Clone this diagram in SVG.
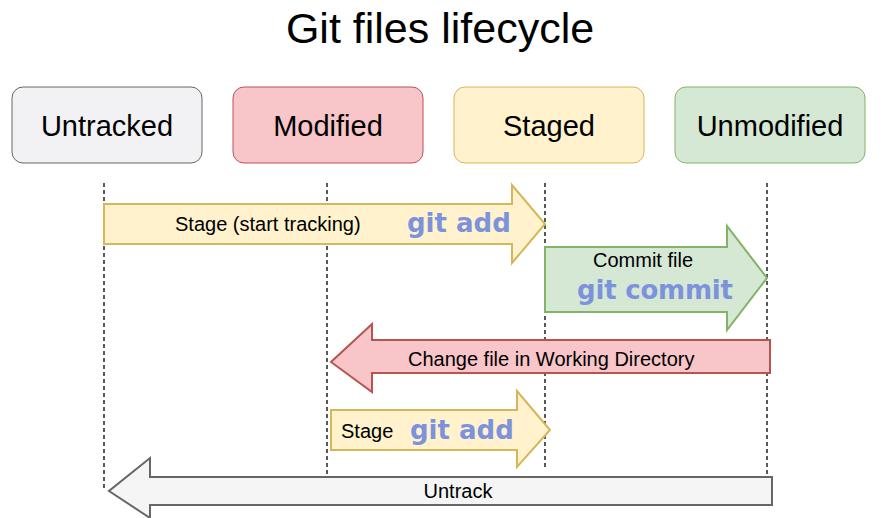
<svg xmlns="http://www.w3.org/2000/svg" width="889" height="518" viewBox="0 0 889 518">
<style>
.t{font-family:"Liberation Sans",Arial,sans-serif;fill:#000}
.n{font-size:29px}
.l{font-size:20px}
.g{font-family:"DejaVu Sans",sans-serif;font-weight:bold;fill:#7d92dc;font-size:26px}
.d{stroke:#000;stroke-width:1.3;stroke-dasharray:4 3;fill:none}
</style>
<rect width="889" height="518" fill="#fff"/>
<text class="t" x="440" y="43" font-size="43" text-anchor="middle">Git files lifecycle</text>
<g id="untracked"><rect x="12" y="87" width="190" height="76" rx="11" fill="#f2f2f5" stroke="#666"/><text class="t n" x="107" y="136" text-anchor="middle">Untracked</text></g>
<g id="modified"><rect x="233" y="87" width="190" height="76" rx="11" fill="#f8c5c9" stroke="#b85450"/><text class="t n" x="328" y="136" text-anchor="middle">Modified</text></g>
<g id="staged"><rect x="454" y="87" width="190" height="76" rx="11" fill="#fff2cc" stroke="#d6b656"/><text class="t n" x="549" y="136" text-anchor="middle">Staged</text></g>
<g id="unmodified"><rect x="675" y="87" width="190" height="76" rx="11" fill="#d5e8d4" stroke="#82b366"/><text class="t n" x="770" y="136" text-anchor="middle">Unmodified</text></g>
<g id="connectors">
<path class="d" d="M104 183V490M327 183V475M545 183V470M767 183V478"/>
<path d="M104 204H512V185L545 224L512 263V244H104Z" fill="#fff2cc" stroke="#d6b656" stroke-width="2"/>
<text class="t l" x="175" y="231">Stage (start tracking)</text><text class="g" x="407" y="232">git add</text>
<path d="M545 247H727V226L767 278L727 330V312H545Z" fill="#d5e8d4" stroke="#82b366" stroke-width="2"/>
<text class="t l" x="593" y="267">Commit file</text><text class="g" x="577" y="299" textLength="156">git commit</text>
<path d="M770 340H372V324L331 362L372 392V373H770Z" fill="#f8c5c9" stroke="#b85450" stroke-width="2"/>
<text class="t l" x="408" y="366">Change file in Working Directory</text>
<path d="M331 410H517V391L550 430L517 467V450H331Z" fill="#fff2cc" stroke="#d6b656" stroke-width="2"/>
<text class="t l" x="341" y="438">Stage</text><text class="g" x="410" y="439">git add</text>
<path d="M772 477H150V458L109 491L150 518V505H772Z" fill="#f5f5f5" stroke="#666" stroke-width="2"/>
<text class="t l" x="458" y="498" text-anchor="middle">Untrack</text>
</g>
</svg>
